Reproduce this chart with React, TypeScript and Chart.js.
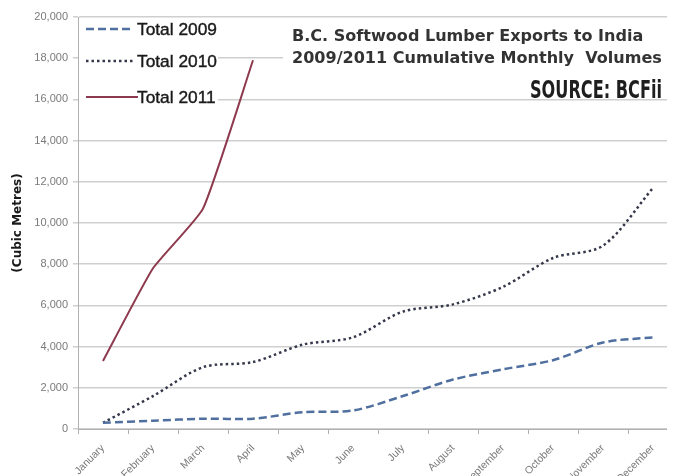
import React, { useEffect, useRef } from "react";
import { Chart, registerables } from "chart.js";

Chart.register(...registerables);

const months = [
  "January", "February", "March", "April", "May", "June",
  "July", "August", "September", "October", "November", "December",
];
const total2009 = [300, 400, 500, 500, 820, 900, 1600, 2400, 2900, 3340, 4200, 4450];
const total2010 = [300, 1600, 3000, 3250, 4100, 4450, 5700, 6050, 6900, 8300, 8900, 11700];
const total2011 = [3300, 7800, 10700, 17900, null, null, null, null, null, null, null, null];
const seriesLabels = ["Total 2009", "Total 2010", "Total 2011"];
const yMin = 0;
const yMax = 20000;
const yStep = 2000;
const yAxisTitle = "(Cubic Metres)";
const titleLines = [
  "B.C. Softwood Lumber Exports to India",
  "2009/2011 Cumulative Monthly  Volumes",
];
const sourceText = "SOURCE: BCFii";

const colors = ["#4f6f9f", "#35384a", "#8e3a4e"];
const dashes = [[8, 4], [2.5, 3], []];
const widths = [2.5, 2.5, 2];
const tensions = [0.3, 0.3, 0.15];

const overlayPlugin = {
  id: "overlay",
  beforeDatasetsDraw(chart: any) {
    const ctx = chart.ctx as CanvasRenderingContext2D;
    ctx.save();
    ctx.fillStyle = "#ffffff";
    ctx.fillRect(79, 19, 139, 93);
    ctx.fillRect(283, 19, 400, 60);

    // legend
    const legendY = [29, 61, 97];
    ctx.font = '100px "Liberation Sans"';
    const lw = ctx.measureText(seriesLabels[0]).width;
    const lSize = (100 * 80) / lw;
    seriesLabels.forEach((lab, i) => {
      ctx.beginPath();
      ctx.strokeStyle = colors[i];
      ctx.lineWidth = widths[i];
      ctx.setLineDash(dashes[i]);
      ctx.moveTo(86, legendY[i]);
      ctx.lineTo(i === 2 ? 138 : 134, legendY[i]);
      ctx.stroke();
      ctx.setLineDash([]);
      ctx.fillStyle = "#1a1a1a";
      ctx.strokeStyle = "#1a1a1a";
      ctx.lineWidth = 0.4;
      ctx.font = `${lSize}px "Liberation Sans"`;
      ctx.textAlign = "left";
      ctx.textBaseline = "middle";
      ctx.fillText(lab, 137, legendY[i] + 1);
      ctx.strokeText(lab, 137, legendY[i] + 1);
    });

    // title
    ctx.font = 'bold 100px "DejaVu Sans"';
    const tw = ctx.measureText(titleLines[1]).width;
    const tSize = (100 * 370) / tw;
    ctx.font = `bold ${tSize}px "DejaVu Sans"`;
    ctx.fillStyle = "#333333";
    ctx.textAlign = "left";
    ctx.textBaseline = "middle";
    ctx.fillText(titleLines[0], 292, 37);
    ctx.fillText(titleLines[1], 292, 59);

    // source
    const srcSize = 25;
    ctx.font = `bold ${srcSize}px "DejaVu Sans Condensed", "DejaVu Sans"`;
    const sw = ctx.measureText(sourceText).width;
    const sx = 132 / sw;
    ctx.save();
    ctx.translate(530, 98);
    ctx.scale(sx, 1);
    ctx.fillStyle = "#1e1e1e";
    ctx.textBaseline = "alphabetic";
    ctx.fillText(sourceText, 0, 0);
    ctx.restore();
    ctx.restore();
  },
};

export default function App() {
  const ref = useRef<HTMLCanvasElement | null>(null);
  useEffect(() => {
    if (!ref.current) return;
    const chart = new Chart(ref.current, {
      type: "line",
      data: {
        labels: months,
        datasets: [total2009, total2010, total2011].map((d, i) => ({
          label: seriesLabels[i],
          data: d,
          borderColor: colors[i],
          borderWidth: widths[i],
          borderDash: dashes[i],
          pointRadius: 0,
          tension: tensions[i],
          fill: false,
          spanGaps: false,
        })),
      },
      options: {
        responsive: false,
        animation: false,
        layout: { padding: { top: 17, right: 2, left: 0, bottom: 0 } },
        plugins: {
          legend: { display: false },
          title: { display: false },
          tooltip: { enabled: false },
        },
        scales: {
          x: {
            type: "category",
            offset: true,
            grid: {
              display: true,
              drawOnChartArea: false,
              drawTicks: true,
              tickLength: 5,
              color: "#b0b0b0",
              offset: true,
            },
            border: { display: true, color: "#b0b0b0" },
            ticks: {
              maxRotation: 45,
              minRotation: 45,
              autoSkip: false,
              color: "#7a7a7a",
              padding: 8,
              font: { size: 10.5, family: '"Liberation Sans"' },
            },
            afterFit: (s: any) => {
              s.height = 47;
            },
          },
          y: {
            min: yMin,
            max: yMax,
            ticks: {
              stepSize: yStep,
              color: "#7a7a7a",
              padding: 5,
              font: { size: 11, family: '"Liberation Sans"' },
              callback: (v: any) => Number(v).toLocaleString("en-US"),
            },
            grid: {
              color: "#cfcfcf",
              lineWidth: 1.5,
              drawTicks: true,
              tickLength: 5,
            },
            border: { display: true, color: "#b0b0b0" },
            title: {
              display: true,
              text: yAxisTitle,
              color: "#1a1a1a",
              font: { size: 12, weight: "bold", family: '"DejaVu Sans"' },
              padding: { top: 11, bottom: 0 },
            },
            afterFit: (s: any) => {
              s.width = 78;
            },
          },
        },
      },
      plugins: [overlayPlugin],
    });
    return () => chart.destroy();
  }, []);
  return (
    <div
      style={{
        width: 675,
        height: 476,
        overflow: "hidden",
        marginLeft: -8,
        marginTop: -8,
        background: "#fff",
      }}
    >
      <canvas ref={ref} width={680} height={476} style={{ display: "block" }} />
    </div>
  );
}
